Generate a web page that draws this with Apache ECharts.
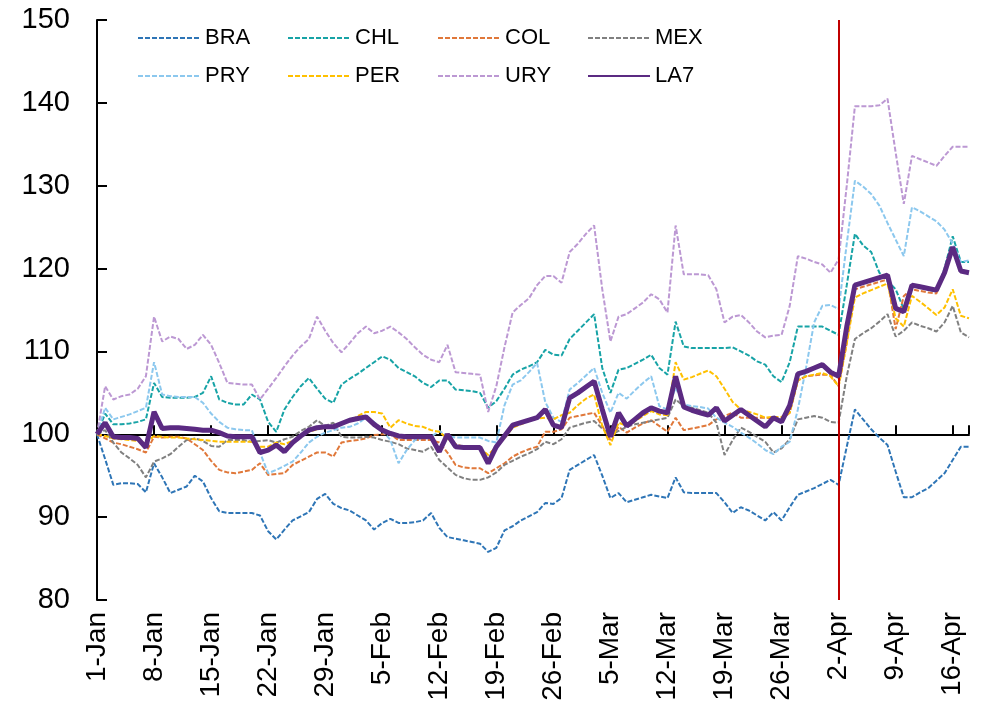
<!DOCTYPE html>
<html>
<head>
<meta charset="utf-8">
<title>LA7 equity indices</title>
<script src="https://cdn.jsdelivr.net/npm/echarts@6/dist/echarts.min.js"></script>
<style>
  html, body { margin: 0; padding: 0; background: #fff; }
  #chart { width: 992px; height: 713px; }
</style>
</head>
<body>
<div id="chart"></div>
<script>
// index, 1-Jan = 100 ; one value per calendar day (1-Jan .. 18-Apr)
var BASE = 100;
var tickLabels = ['1-Jan', '8-Jan', '15-Jan', '22-Jan', '29-Jan', '5-Feb', '12-Feb', '19-Feb',
  '26-Feb', '5-Mar', '12-Mar', '19-Mar', '26-Mar', '2-Apr', '9-Apr', '16-Apr'];
var eventDay = 91; // 2-Apr, red line

var bra = [100, 97, 93.9, 94.1, 94.1, 94, 93, 96.5, 94.8, 92.9,
  93.3, 93.7, 95, 94.3, 92.3, 90.7, 90.5, 90.5, 90.5, 90.5,
  90.2, 88.3, 87.3, 88.5, 89.6, 90.1, 90.6, 92.2, 92.8, 91.6,
  91.1, 90.8, 90.2, 89.6, 88.5, 89.3, 89.8, 89.3, 89.3, 89.4,
  89.6, 90.5, 88.7, 87.6, 87.4, 87.2, 87, 86.8, 85.8, 86.3,
  88.4, 88.9, 89.6, 90.1, 90.6, 91.7, 91.6, 92.3, 95.7, 96.3,
  96.9, 97.5, 95, 92.3, 92.9, 91.8, 92.1, 92.4, 92.7, 92.5,
  92.3, 94.8, 93, 92.9, 92.9, 92.9, 92.9, 91.8, 90.5, 91.2,
  90.8, 90.2, 89.6, 90.6, 89.6, 91.2, 92.7, 93.1, 93.5, 94,
  94.5, 93.9, 98.5, 103, 101.8, 100.6, 99.6, 98.7, 95.5, 92.4,
  92.4, 93, 93.5, 94.4, 95.3, 96.9, 98.5, 98.5];
var chl = [100, 102.5, 101.2, 101.2, 101.3, 101.5, 101.8, 106.2, 104.5, 104.4,
  104.4, 104.4, 104.5, 105, 107, 104.2, 103.8, 103.6, 103.6, 104.8,
  104.2, 101.5, 100.3, 103, 104.5, 105.8, 106.8, 105.5, 104.3, 103.8,
  106, 106.7, 107.3, 108, 108.7, 109.4, 109, 108, 107.5, 107,
  106.2, 105.7, 106.5, 106.5, 105.4, 105.3, 105.2, 105, 103.2, 104,
  105.5, 107.2, 107.8, 108.2, 108.7, 110.2, 109.6, 109.5, 111.5, 112.5,
  113.5, 114.5, 108, 105, 107.8, 108, 108.5, 109, 109.6, 108,
  107.2, 113.6, 110.6, 110.4, 110.4, 110.4, 110.4, 110.4, 110.5, 110,
  109.5, 108.8, 108.4, 107, 106.3, 108.7, 113, 113, 113, 113,
  112.5, 112, 118, 124.2, 122.8, 122, 119.5, 118.5, 117.5, 115.1,
  117.9, 117.7, 117.5, 117.2, 120, 123.9, 120.8, 120.8];
var col = [100, 99.5, 99, 98.8, 98.5, 98.2, 97.8, 99.7, 99.6, 99.7,
  99.7, 99.5, 98.8, 98.1, 96.8, 95.7, 95.4, 95.3, 95.5, 95.7,
  96.5, 95.1, 95.2, 95.3, 96.3, 96.8, 97.3, 97.8, 97.8, 97.3,
  99, 99.2, 99.3, 99.5, 99.9, 100, 100, 99.3, 99.3, 99.3,
  99.3, 99.3, 99, 97.8, 96.3, 96, 95.9, 95.9, 95.3, 95.9,
  96.5, 97.3, 97.8, 98.2, 98.5, 100.3, 100.3, 100.6, 102, 102.2,
  102.4, 102.6, 101, 99.3, 100.9, 100.2, 100.8, 101.3, 101.7, 101,
  100.3, 102, 100.5, 100.7, 100.9, 101.1, 101.8, 102.2, 102.6, 102,
  102, 102, 102, 101.9, 101.8, 102.6, 106.5, 107, 107.1, 107.2,
  107.2, 105.8, 111, 117.5, 117.8, 118.1, 118.4, 118.7, 112.7, 116.7,
  117.5, 117.3, 117.1, 117, 119.5, 122.5, 119.8, 119.6];
var mex = [100, 100.5, 99, 97.8, 97.1, 96.3, 94.8, 96.7, 97.1, 97.6,
  98.5, 99.3, 99.5, 99.2, 98.6, 98.5, 99.3, 99.3, 99.3, 99.1,
  99.2, 99.3, 99, 99.4, 99.7, 100.4, 100.9, 101.7, 101, 101.4,
  99.7, 99.6, 99.6, 99.7, 99.6, 99.3, 99.1, 98.8, 98.3, 98.1,
  97.9, 98.5, 96.9, 96, 95.1, 94.7, 94.5, 94.5, 94.8, 95.4,
  96.3, 96.8, 97.3, 97.7, 98.2, 99.1, 98.8, 99.4, 100.8, 101.1,
  101.4, 101.6, 100.7, 99.9, 100.4, 100.9, 101.2, 101.4, 101.6, 101.8,
  102, 104.2, 103.4, 103.2, 102.9, 102.6, 101.4, 97.5, 99.3, 100.8,
  100.3, 99.7, 99.1, 97.8, 98.3, 99.4, 101.8, 102, 102.2, 102,
  101.5, 101.4, 107, 111.5, 112.2, 112.8, 113.6, 114.5, 111.8, 112.5,
  113.5, 113.1, 112.8, 112.4, 113.5, 115.5, 112.3, 111.7];
var pry = [100, 103.2, 101.8, 102.1, 102.4, 102.8, 103.2, 108.7, 104.8, 104.6,
  104.5, 104.5, 104.5, 103.8, 102.5, 101.5, 100.8, 100.6, 100.5, 100.5,
  97.8, 95.3, 95.7, 96.2, 96.7, 97.8, 99, 99.7, 100.2, 100.5,
  100.8, 100.9, 101.3, 102, 101.5, 100.5, 99.3, 96.5, 98.1, 99.3,
  99.6, 99.7, 100.4, 99.8, 99.6, 99.6, 99.6, 99.6, 99.2, 99,
  103.5, 106, 106.5, 107.5, 108.6, 103.9, 102, 101.5, 105.4, 106.2,
  107.1, 108, 105, 102.6, 105, 104.3, 105.3, 106.2, 107, 103.4,
  103, 105.6, 103.6, 103.4, 103.3, 103.1, 102, 101.4, 100.9, 100.2,
  99.6, 98.9, 98.1, 97.6, 98.5, 99.1, 103, 108, 113.5, 115.5,
  115.6, 115.1, 123, 130.6, 129.9, 129, 127.6, 125.5, 123.5, 121.5,
  127.4, 126.9, 126.3, 125.7, 124.7, 123, 120.8, 121];
var per = [100, 99.8, 99.5, 99.4, 99.3, 99.2, 99, 99.8, 99.7, 99.6,
  99.6, 99.5, 99.4, 99.3, 99.2, 99.1, 99.1, 99.1, 99.1, 99.1,
  98.5, 98.5, 99, 98.8, 99.2, 99.8, 100.3, 100.6, 100.8, 101,
  101.2, 101.6, 102.2, 102.7, 102.7, 102.5, 100.8, 101.7, 101.3, 101,
  100.9, 100.5, 100.3, 99.5, 98.8, 98.5, 98.4, 98.3, 97.5, 98.5,
  99.5, 100.8, 101.2, 101.6, 101.9, 102, 101.8, 102.3, 102.6, 103.5,
  104.3, 104.8, 101, 98.7, 101.4, 101, 101.6, 102.2, 102.8, 102.4,
  102.3, 108.7, 106.6, 106.9, 107.3, 107.7, 107, 105.5, 103.9, 103,
  102.7, 102.4, 102, 102.1, 102.1, 102.6, 106.5, 107, 107.2, 107.4,
  107, 105.8, 111, 116.5, 117, 117.4, 117.8, 118.2, 114, 113,
  116.7, 116, 115.2, 114.4, 115.3, 117.5, 114.3, 114];
var ury = [100, 105.8, 104.2, 104.6, 104.8, 105.5, 107, 114.2, 111.2, 111.8,
  111.5, 110.3, 110.8, 112, 110.8, 108.6, 106.2, 106.1, 106, 106,
  104.2, 105.5, 106.8, 108.2, 109.5, 110.6, 111.5, 114.2, 112.5, 111,
  109.9, 111, 112.2, 113, 112.2, 112.5, 113, 112.3, 111.5, 110.5,
  109.6, 109, 108.7, 110.8, 107.5, 107.4, 107.3, 107.2, 102.7, 105.8,
  110.5, 114.7, 115.6, 116.4, 118, 119.1, 119.1, 118.3, 122, 123,
  124.2, 125.2, 117.5, 111.2, 114.2, 114.5, 115.2, 115.9, 116.9, 116.3,
  114.7, 125.2, 119.3, 119.3, 119.3, 119.2, 117.5, 113.5, 114.2, 114.4,
  113.5, 112.4, 111.7, 111.9, 112, 115.5, 121.5, 121.2, 120.8, 120.5,
  119.5, 121.1, 130, 139.6, 139.6, 139.6, 139.7, 140.5, 134, 127.8,
  133.6, 133.2, 132.8, 132.4, 133.6, 134.7, 134.7, 134.7];
var la7 = [100, 101.4, 99.7, 99.6, 99.6, 99.5, 98.4, 102.7, 100.7, 100.8,
  100.8, 100.7, 100.6, 100.5, 100.5, 100.2, 99.8, 99.7, 99.7, 99.7,
  97.8, 98.1, 98.7, 97.9, 99, 99.8, 100.5, 100.8, 100.9, 100.9,
  101.3, 101.7, 101.9, 102.1, 101.2, 100.5, 100.1, 99.8, 99.7, 99.7,
  99.7, 99.7, 97.9, 100, 98.5, 98.4, 98.4, 98.4, 96.5, 98.5,
  99.8, 101.1, 101.4, 101.7, 102, 103, 101.1, 100.8, 104.4, 105,
  105.7, 106.4, 103, 99.7, 102.6, 101, 101.8, 102.6, 103.2, 102.8,
  102.6, 107, 103.3, 102.9, 102.6, 102.3, 103.2, 101.6, 102.3, 103,
  102.3, 101.6, 100.9, 102, 101.5, 103.5, 107.3, 107.6, 108, 108.4,
  107.5, 107, 113, 118, 118.3, 118.6, 118.9, 119.2, 115.2, 114.8,
  118, 117.8, 117.6, 117.4, 119.5, 122.6, 119.7, 119.5];

var names = ['BRA', 'CHL', 'COL', 'MEX', 'PRY', 'PER', 'URY', 'LA7'];
var values = [bra, chl, col, mex, pry, per, ury, la7];
var colors = ['#2E75B6', '#17A3A6', '#E0783A', '#808080', '#8CC8EE', '#FFC000', '#BC98D3', '#5B2A82'];

var font = "'Liberation Sans', Arial, sans-serif";

// plotted relative to BASE so the x axis line can sit on 100
function points(vals) {
  return vals.map(function (v, i) { return [i, Math.round((v - BASE) * 100) / 100]; });
}

var series = names.map(function (n, k) {
  var isLa7 = n === 'LA7';
  var s = {
    name: n,
    type: 'line',
    data: points(values[k]),
    symbol: 'none',
    xAxisIndex: 0,
    z: isLa7 ? 5 : 3,
    itemStyle: { color: colors[k] },
    lineStyle: isLa7
      ? { color: colors[k], width: 5, type: 'solid' }
      : { color: colors[k], width: 2, type: [5, 2] }
  };
  if (k === 0) {
    s.markLine = {
      silent: true,
      symbol: ['none', 'none'],
      label: { show: false },
      lineStyle: { color: '#C00000', width: 2, type: 'solid' },
      data: [{ xAxis: eventDay }]
    };
  }
  return s;
});

var chart = echarts.init(document.getElementById('chart'));
chart.setOption({
  animation: false,
  backgroundColor: '#fff',
  grid: { left: 97, right: 23, top: 20, bottom: 113 },
  legend: {
    data: names,
    left: 132,
    top: 19,
    width: 600,
    itemWidth: 62,
    itemHeight: 14,
    itemGap: 10,
    itemStyle: { opacity: 0 },
    textStyle: { fontFamily: font, fontSize: 22, color: '#000', width: 72, lineHeight: 28 }
  },
  xAxis: [
    {
      type: 'value', min: 0, max: 107, interval: 7, position: 'bottom',
      axisLine: { show: false, onZero: false },
      axisTick: { show: false },
      splitLine: { show: false },
      axisLabel: {
        rotate: 90, margin: 12, fontSize: 28, color: '#000', fontFamily: font,
        formatter: function (v) { return v % 7 === 0 ? (tickLabels[v / 7] || '') : ''; }
      }
    },
    {
      type: 'value', min: 0, max: 107, interval: 7, position: 'bottom',
      axisLine: { onZero: true, lineStyle: { color: '#000', width: 2 } },
      axisTick: { show: true, inside: true, length: 9, lineStyle: { color: '#000', width: 2 } },
      axisLabel: { show: false },
      splitLine: { show: false }
    }
  ],
  yAxis: {
    type: 'value', min: 80 - BASE, max: 150 - BASE, interval: 10,
    axisLine: { show: true, onZero: false, lineStyle: { color: '#000', width: 2 } },
    axisTick: { show: true, inside: true, length: 10, lineStyle: { color: '#000', width: 2 } },
    splitLine: { show: false },
    axisLabel: {
      margin: 27, fontSize: 29, color: '#000', fontFamily: font,
      formatter: function (v) { return v + BASE; }
    }
  },
  series: series
});
</script>
</body>
</html>
